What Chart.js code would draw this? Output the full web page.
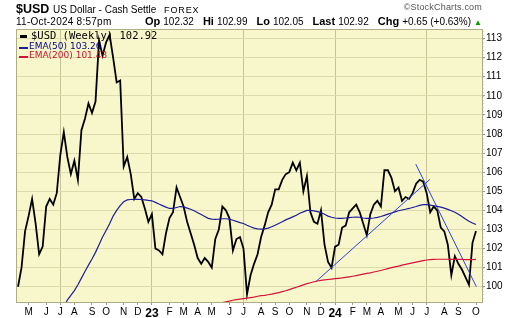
<!DOCTYPE html>
<html>
<head>
<meta charset="utf-8">
<script src="https://cdn.jsdelivr.net/npm/chart.js@4.4.1/dist/chart.umd.min.js"></script>
<style>
  html, body { margin: 0; padding: 0; background: #fff; }
  #wrap { position: relative; width: 520px; height: 318px; overflow: hidden; }
  #wrap canvas { position: absolute; left: 0; top: 0; }
  .t { position: absolute; white-space: nowrap; line-height: 1; color: #000;
       font-family: "Liberation Sans", Arial, sans-serif; }
  .mk { position: absolute; }
  #sym { left: 16px; top: 2.7px; font-size: 12.5px; font-weight: bold; }
  #name { left: 53px; top: 4.8px; font-size: 10px; }
  #exch { left: 164px; top: 5.8px; font-size: 9px; letter-spacing: 0.9px; }
  #copy { right: 38px; top: 3.4px; font-size: 9px; color: #555; letter-spacing: 0.2px; }
  #stamp { left: 16px; top: 17px; font-size: 10px; letter-spacing: 0.25px; }
  #ohlc { right: 38px; top: 16.2px; font-size: 11px; }
  #ohlc b { font-weight: bold; margin-left: 9px; }
  #ohlc b:first-child { margin-left: 0; }
  #ohlc span { font-size: 10px; margin-left: 3px; }
  #ohlc i { font-style: normal; color: #00a000; font-size: 8px; margin-left: 3px; }
  #lg1 { left: 31px; top: 30.3px; font-size: 10.5px; font-family: "DejaVu Sans Mono", monospace; }
  #lg2 { left: 29px; top: 41.8px; font-size: 9px; font-family: "DejaVu Sans", sans-serif; color: #000090; }
  #lg3 { left: 29px; top: 51.2px; font-size: 9px; font-family: "DejaVu Sans", sans-serif; color: #d0102e; }
</style>
</head>
<body>
<div id="wrap">
  <canvas id="chart" width="520" height="318"></canvas>
  <div class="t" id="sym">$USD</div>
  <div class="t" id="name">US Dollar - Cash Settle</div>
  <div class="t" id="exch">FOREX</div>
  <div class="t" id="copy">&copy;StockCharts.com</div>
  <div class="t" id="stamp">11-Oct-2024 8:57pm</div>
  <div class="t" id="ohlc"><b>Op</b><span>102.32</span><b>Hi</b><span>102.99</span><b>Lo</b><span>102.05</span><b>Last</b><span>102.92</span><b>Chg</b><span>+0.65 (+0.63%)</span><i>&#9650;</i></div>
  <div class="mk" style="left:20px;top:35px;width:7px;height:3px;background:#000"></div>
  <div class="mk" style="left:19px;top:47px;width:9px;height:2px;background:#1e1e9c"></div>
  <div class="mk" style="left:19px;top:56px;width:9px;height:2px;background:#d2143a"></div>
  <div class="t" id="lg1">$USD (Weekly) 102.92</div>
  <div class="t" id="lg2">EMA(50) 103.26</div>
  <div class="t" id="lg3">EMA(200) 101.43</div>
</div>
<script>
// weekly bars, first one is the week of Mon 11-Apr-2022 (Fri 15-Apr)
var firstWeek = '2022-04-11';

var closes = [
  100.0, 101.0, 102.9, 103.7, 104.6, 103.3, 101.7, 102.1, 104.2, 104.6,
  104.3, 104.9, 106.9, 108.1, 106.8, 105.9, 106.6, 105.6, 108.2, 108.8,
  109.6, 109.1, 109.7, 112.9, 112.1, 112.8, 113.2, 112.0, 110.7, 110.8,
  106.3, 106.8, 105.9, 104.6, 104.9, 104.7, 104.1, 103.4, 103.8, 102.0,
  101.9, 101.7, 102.8, 103.6, 103.9, 105.2, 104.7, 104.2, 103.4, 102.8,
  102.2, 101.5, 101.2, 101.5, 101.3, 101.0, 102.5, 103.0, 104.2, 104.0,
  103.6, 101.9, 102.5, 102.6, 102.0, 99.6, 100.6, 101.2, 101.7, 102.6,
  103.2, 103.9, 104.3, 105.1, 105.1, 105.6, 105.9, 106.0, 106.5, 106.1,
  106.5, 105.0, 105.8, 103.9, 103.4, 103.3, 104.0, 102.2, 101.3, 101.0,
  102.1, 102.2, 103.1, 103.2, 103.9, 104.1, 104.3, 103.9, 103.3, 102.7,
  103.8, 104.3, 104.5, 104.2, 106.1, 106.1, 105.7, 105.0, 105.2, 104.5,
  104.7, 104.6, 104.9, 105.4, 105.6, 105.5, 104.9, 103.9, 104.2, 104.0,
  103.1, 102.9, 102.2, 100.6, 101.6, 101.2, 100.9, 100.5, 100.1, 102.3,
  102.92
];

// null = below the bottom of the pane
var ema50 = [
  null, null, null, null, null, null, null, null, null, null,
  null, null, null, 98.95, 99.3, 99.55, 99.8, 100.1, 100.45, 100.8,
  101.13, 101.45, 101.8, 102.2, 102.6, 102.95, 103.3, 103.7, 104.0, 104.25,
  104.45, 104.55, 104.57, 104.58, 104.58, 104.57, 104.55, 104.52, 104.5, 104.42,
  104.33, 104.25, 104.17, 104.1, 104.1, 104.15, 104.2, 104.18, 104.12, 104.06,
  103.98, 103.88, 103.78, 103.68, 103.58, 103.54, 103.53, 103.54, 103.56, 103.56,
  103.54, 103.48, 103.42, 103.36, 103.31, 103.22, 103.14, 103.07, 103.03, 103.02,
  103.03, 103.07, 103.14, 103.22, 103.31, 103.4, 103.5, 103.58, 103.66, 103.74,
  103.85, 103.92, 104.0, 104.0, 103.97, 103.93, 103.88, 103.8, 103.7, 103.64,
  103.6, 103.58, 103.58, 103.6, 103.62, 103.64, 103.65, 103.64, 103.6, 103.58,
  103.58, 103.6, 103.63, 103.68, 103.74, 103.8, 103.86, 103.92, 103.98, 104.02,
  104.06, 104.1, 104.15, 104.2, 104.26, 104.3, 104.3, 104.27, 104.24, 104.21,
  104.17, 104.12, 104.05, 103.98, 103.9, 103.8, 103.68, 103.55, 103.43, 103.34,
  103.26
];

var ema200 = [
  null, null, null, null, null, null, null, null, null, null,
  null, null, null, null, null, null, null, null, null, null,
  null, null, null, null, null, null, null, null, null, null,
  null, null, null, null, null, null, null, null, null, null,
  null, null, null, null, null, null, null, null, null, null,
  null, null, null, null, null, null, null, 99.1, 99.17, 99.21,
  99.25, 99.29, 99.32, 99.35, 99.38, 99.4, 99.43, 99.46, 99.5, 99.53,
  99.55, 99.58, 99.61, 99.65, 99.69, 99.74, 99.79, 99.85, 99.91, 99.97,
  100.03, 100.1, 100.16, 100.21, 100.26, 100.3, 100.33, 100.36, 100.38, 100.4,
  100.42, 100.44, 100.46, 100.49, 100.52, 100.55, 100.58, 100.62, 100.66, 100.7,
  100.73, 100.77, 100.81, 100.85, 100.9, 100.95, 101.0, 101.04, 101.08, 101.13,
  101.17, 101.21, 101.25, 101.29, 101.33, 101.37, 101.4, 101.42, 101.43, 101.44,
  101.44, 101.44, 101.44, 101.43, 101.43, 101.43, 101.43, 101.42, 101.42, 101.42,
  101.43
];

// hand-drawn trendlines: [week, price] at each end
var trendUp = [[84.5, 100.26], [116.9, 105.62]];
var trendDown = [[112.9, 106.42], [130.1, 100.0]];

var priceTicks = [100, 101, 102, 103, 104, 105, 106, 107, 108, 109, 110, 111, 112, 113];
var monthLetters = ['J', 'F', 'M', 'A', 'M', 'J', 'J', 'A', 'S', 'O', 'N', 'D'];

var PANE = '#f8f7cb';
var GRID = '#dddbac';
var HALF_GRID = '#c6c496';
var EDGE = '#aeae84';

// first weekly bar whose Monday falls in each month
function monthTicks() {
  var start = new Date(firstWeek + 'T00:00:00Z');
  var out = [];
  for (var y = 2022; y <= 2024; y++) {
    for (var m = 0; m < 12; m++) {
      var d = new Date(Date.UTC(y, m, 1));
      d.setUTCDate(1 + ((8 - d.getUTCDay()) % 7));
      var idx = Math.round((d - start) / 604800000);
      if (idx < 0 || idx > closes.length - 1) continue;
      out.push({
        value: idx,
        label: m === 0 ? String(y).slice(2) : monthLetters[m],
        year: m === 0,
        half: m === 0 || m === 6
      });
    }
  }
  return out;
}

function toPoints(arr) {
  return arr.map(function (v, i) { return { x: i, y: v }; });
}

function toLine(pair) {
  return pair.map(function (p) { return { x: p[0], y: p[1] }; });
}

var xTicks = monthTicks();

var paneBg = {
  id: 'paneBg',
  beforeDraw: function (chart) {
    var a = chart.chartArea, c = chart.ctx;
    c.save();
    c.fillStyle = PANE;
    c.fillRect(a.left, a.top, a.right - a.left, a.bottom - a.top);
    c.restore();
  },
  afterDraw: function (chart) {
    var a = chart.chartArea, c = chart.ctx, ys = chart.scales.y;
    c.save();
    c.strokeStyle = EDGE;
    c.lineWidth = 1;
    c.beginPath();
    c.moveTo(a.left + 0.5, a.bottom);
    c.lineTo(a.left + 0.5, a.top + 0.5);
    c.lineTo(a.right, a.top + 0.5);
    c.stroke();
    // minor ticks on the price axis
    c.strokeStyle = '#b0b090';
    c.beginPath();
    for (var v = 99.4; v < 113.5; v += 0.2) {
      var py = Math.round(ys.getPixelForValue(v)) + 0.5;
      c.moveTo(a.right, py);
      c.lineTo(a.right + 1.5, py);
    }
    c.stroke();
    c.restore();
  }
};

new Chart(document.getElementById('chart'), {
  type: 'line',
  data: {
    datasets: [
      { data: toPoints(ema200), borderColor: '#d2143a', borderWidth: 1.2 },
      { data: toPoints(ema50), borderColor: '#1e1e9c', borderWidth: 1.2 },
      { data: toLine(trendUp), borderColor: '#2f3df2', borderWidth: 1 },
      { data: toLine(trendDown), borderColor: '#2f3df2', borderWidth: 1 },
      { data: toPoints(closes), borderColor: '#000000', borderWidth: 1.8 }
    ]
  },
  options: {
    responsive: false,
    animation: false,
    events: [],
    datasets: { line: { pointRadius: 0, tension: 0, clip: 0, spanGaps: false } },
    layout: { padding: { left: 16, top: 29, right: 0, bottom: 0 } },
    plugins: { legend: { display: false }, tooltip: { enabled: false } },
    scales: {
      x: {
        type: 'linear',
        min: -0.57,
        max: 131.7,
        afterBuildTicks: function (s) {
          s.ticks = xTicks.map(function (t) { return { value: t.value }; });
        },
        afterFit: function (s) { s.height = 16; },
        ticks: {
          autoSkip: false,
          maxRotation: 0,
          padding: 1,
          color: '#000',
          font: function (ctx) {
            var t = xTicks[ctx.index];
            return t && t.year
              ? { family: '"Liberation Sans", Arial', size: 12, weight: 'bold' }
              : { family: '"Liberation Sans", Arial', size: 10 };
          },
          callback: function (v, i) { return xTicks[i] ? xTicks[i].label : ''; }
        },
        grid: {
          color: function (ctx) {
            var t = xTicks[ctx.index];
            return t && t.half ? HALF_GRID : 'rgba(0,0,0,0)';
          },
          tickColor: '#9a9a80',
          tickLength: 3
        },
        border: { color: EDGE }
      },
      y: {
        position: 'right',
        min: 99.2,
        max: 113.5,
        afterBuildTicks: function (s) {
          s.ticks = priceTicks.map(function (v) { return { value: v }; });
        },
        afterFit: function (s) { s.width = 38; },
        ticks: {
          padding: 1,
          color: '#000',
          font: { family: '"Liberation Sans", Arial', size: 10 }
        },
        grid: { color: GRID, tickColor: '#9a9a80', tickLength: 3 },
        border: { color: EDGE }
      }
    }
  },
  plugins: [paneBg]
});
</script>
</body>
</html>
